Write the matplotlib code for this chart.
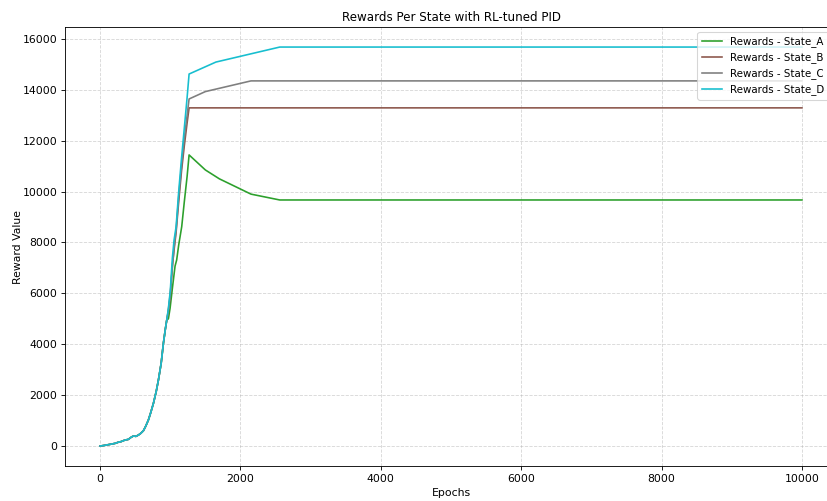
import matplotlib
matplotlib.use("Agg")
import matplotlib.pyplot as plt

# shared early part of the curves (all states look the same until ~950 epochs)
early_epochs = [0, 50, 100, 150, 214, 260, 300, 350, 403, 440, 474, 510, 546, 580,
                617, 650, 688, 720, 760, 800, 831, 870, 902, 930, 950]
early_rewards = [0, 20, 45, 70, 105, 150, 175, 230, 263, 340, 393, 380, 432, 500,
                 601, 780, 1022, 1300, 1680, 2150, 2594, 3250, 4040, 4600, 4953]

a_epochs = [973, 997, 1030, 1068, 1091, 1120, 1163, 1200, 1240, 1268, 1500, 1700, 2150, 2560, 10000]
a_rewards = [5000, 5410, 6200, 7070, 7310, 7900, 8620, 9600, 10600, 11440, 10850, 10500, 9900, 9670, 9670]

b_epochs = [973, 1000, 1030, 1054, 1083, 1120, 1160, 1200, 1240, 1268, 10000]
b_rewards = [5300, 5900, 7100, 7700, 8400, 9600, 10800, 11800, 12700, 13290, 13290]

c_epochs = [973, 1000, 1030, 1054, 1083, 1120, 1160, 1200, 1240, 1268, 1500, 2150, 10000]
c_rewards = [5350, 6000, 7000, 7800, 8500, 9800, 11000, 12100, 13000, 13640, 13930, 14350, 14350]

d_epochs = [973, 1000, 1030, 1054, 1083, 1120, 1160, 1200, 1240, 1268, 1650, 2560, 10000]
d_rewards = [5410, 6100, 7400, 8098, 8620, 10000, 11300, 12500, 13700, 14620, 15090, 15680, 15680]

states = ["State_A", "State_B", "State_C", "State_D"]
colors = ["tab:green", "tab:brown", "tab:gray", "tab:cyan"]
tails = [(a_epochs, a_rewards), (b_epochs, b_rewards), (c_epochs, c_rewards), (d_epochs, d_rewards)]

# the reference looks like a bigger figure shrunk down, so use a lower dpi
dpi = 78
fig = plt.figure(figsize=(827 / dpi, 501 / dpi), dpi=dpi)
ax = fig.add_axes([0.0786, 0.0699, 0.9335, 0.876])

for name, col, (ep, rw) in zip(states, colors, tails):
    ax.plot(early_epochs + ep, early_rewards + rw, color=col, label=f"Rewards - {name}")

ax.set_title("Rewards Per State with RL-tuned PID", fontsize=11)
ax.set_xlabel("Epochs")
ax.set_ylabel("Reward Value", labelpad=0)
ax.grid(True, linestyle="--", alpha=0.5)
# legend sits right at the figure edge like in the original
ax.legend(loc="upper right", bbox_to_anchor=(0.996, 1.0), fontsize=9.5)

fig.savefig("out.png", dpi=dpi)
